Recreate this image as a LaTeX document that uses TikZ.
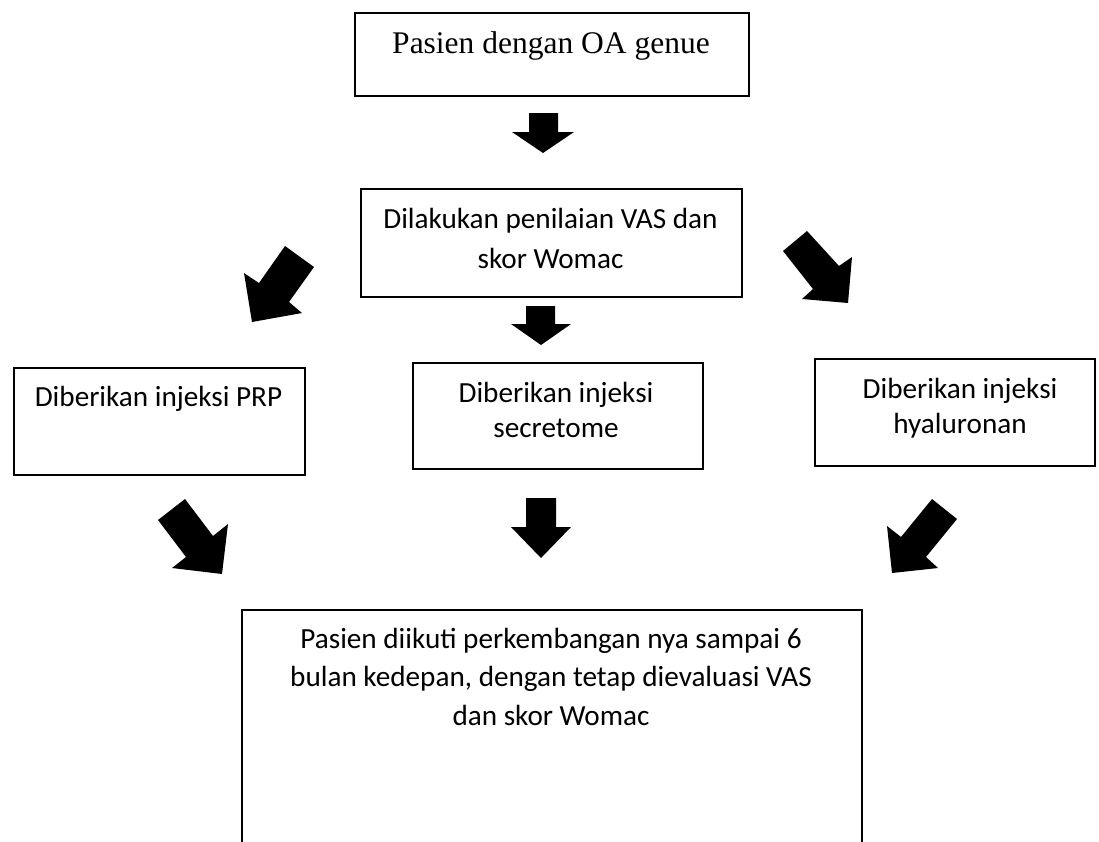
\documentclass[tikz,border=0pt]{standalone}
\usepackage{fontspec}
\setmainfont{Carlito}
\newfontfamily\timesf{Liberation Serif}
\begin{document}
\begin{tikzpicture}[x=1pt,y=-1pt,
  box/.style={draw=black, line width=2pt, fill=white, inner sep=0pt, anchor=north west},
  txt/.style={anchor=base, align=center, inner sep=0pt},
  cal/.style={font=\fontsize{29.2}{#1}\selectfont},
  blk/.style={fill=black}]
\clip (0,0) rectangle (1099,841);
\fill[white] (0,0) rectangle (1099,841);

% boxes
\node[box, minimum width=394, minimum height=83] (start) at (354,12) {};
\node[box, minimum width=381, minimum height=108] (assess) at (360,188) {};
\node[box, minimum width=291, minimum height=107] (prp) at (13,367) {};
\node[box, minimum width=290, minimum height=106] (secr) at (412,362) {};
\node[box, minimum width=280, minimum height=107] (hyal) at (814,358) {};
\node[box, minimum width=620, minimum height=300] (follow) at (241,609) {};

% texts (base anchor = baseline of the last line)
\node[txt, font=\timesf\fontsize{31.5}{36}\selectfont] (tstart) at (551,53) {Pasien dengan OA genue};
\node[txt, cal=40] (tassess) at (550.5,268) {Dilakukan penilaian VAS dan\\skor Womac};
\node[txt, cal=35] (tprp) at (158.5,406) {Diberikan injeksi PRP};
\node[txt, cal=35] (tsecr) at (556,437) {Diberikan injeksi\\secretome};
\node[txt, cal=35] (thyal) at (960,433) {Diberikan injeksi\\hyaluronan};
\node[txt, cal=38.5] (tfollow) at (551,725) {Pasien diikuti perkembangan nya sampai 6\\bulan kedepan, dengan tetap dievaluasi VAS\\dan skor Womac};

% block arrows
\fill[blk] (529,113) -- (558,113) -- (558,132) -- (574,132) -- (543,153) -- (512,132) -- (529,132) -- cycle;
\fill[blk] (526,306) -- (555,306) -- (555,324) -- (571,324) -- (541,345) -- (511,324) -- (526,324) -- cycle;
\fill[blk] (526,498) -- (556,498) -- (556,527) -- (571,527) -- (541,558) -- (511,527) -- (526,527) -- cycle;
% upper diagonal arrows
\fill[blk] (285,246) -- (314,267) -- (289,302) -- (302,313) -- (252,322) -- (244,273) -- (259,283) -- cycle;
\fill[blk] (807,231) -- (839,266) -- (852,257) -- (848,303) -- (802,299) -- (813,289) -- (783,251) -- cycle;
% lower diagonal arrows
\fill[blk] (185,499) -- (213,536) -- (228,524) -- (222,574) -- (172,568) -- (186,557) -- (158,520) -- cycle;
\fill[blk] (932,499) -- (957,519) -- (926,557) -- (938,568) -- (892,573) -- (887,526) -- (901,537) -- cycle;
\end{tikzpicture}
\end{document}
